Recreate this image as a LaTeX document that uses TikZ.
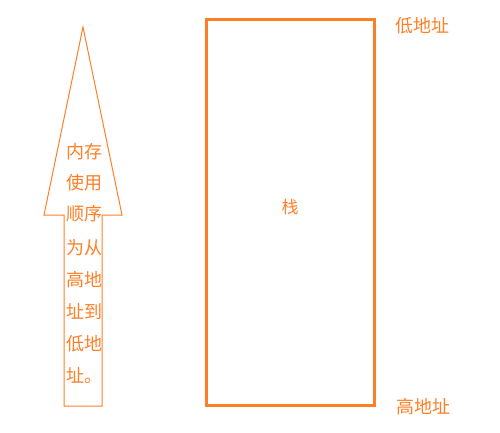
\documentclass[tikz,border=0pt]{standalone}
\usepackage{fontspec}
\newfontfamily\cjk{Noto Sans CJK SC}
\definecolor{paintorange}{HTML}{FF7F27}
\begin{document}
\begin{tikzpicture}[x=1pt,y=-1pt,
                    word/.style = {text=paintorange,
                                inner sep=0pt,
                                font=\cjk\fontsize{18}{18}\selectfont},
                    line/.style = {draw=paintorange}]
                    \useasboundingbox (0,0) rectangle (500,432);
                    % Arrow
                    \draw[line,line width=1pt] (83,27) -- (122,215) -- (102,215) -- (102,406)
                          -- (64,406) -- (64,215) -- (44,215) -- cycle;
                    % Arrow text
                    \node[word] (l1) at (84,152) {内存};
                    \node[word] (l2) at (84,183) {使用};
                    \node[word] (l3) at (84,214) {顺序};
                    \node[word] (l4) at (84,248) {为从};
                    \node[word] (l5) at (84,280) {高地};
                    \node[word] (l6) at (84,312) {址到};
                    \node[word] (l7) at (84,344) {低地};
                    \node[word] (l8) at (84,376) {址。};
                    % Stack
                    \draw[line,line width=3pt] (206,19) rectangle (374,405);
                    \node[word,font=\cjk\fontsize{17}{17}\selectfont] (stack) at (290,207) {栈};
                    % Address labels
                    \node[word] (low) at (422,26) {低地址};
                    \node[word] (high) at (423,407) {高地址};
                \end{tikzpicture}
\end{document}
